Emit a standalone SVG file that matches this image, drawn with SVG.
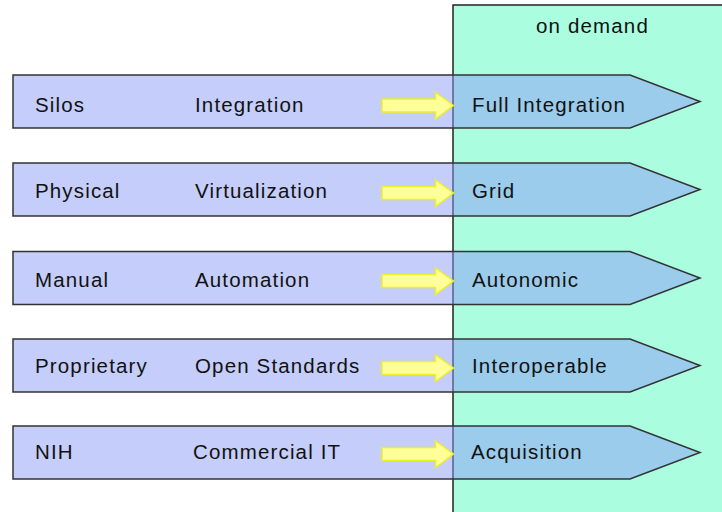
<svg xmlns="http://www.w3.org/2000/svg" width="722" height="512" viewBox="0 0 722 512">
<style>
.t{font-family:"Liberation Sans",Arial,sans-serif;font-size:20.5px;fill:#111;letter-spacing:1.15px}
.band{fill:#8c9cf5;fill-opacity:0.5;stroke:#333;stroke-width:1.5}
.ya{fill:#ffff99;stroke:#f0f020;stroke-width:1.5}
.zone{fill:#abfde0;stroke:#222;stroke-width:1.5}
</style>
<rect width="722" height="512" fill="#fff"/>
<g id="on-demand">
<rect class="zone" x="453" y="5" width="290" height="530"/>
<text class="t" x="536" y="32.5">on demand</text>
</g>
<g id="row1">
<polygon class="band" points="13,75 630,75 700,101.5 630,128 13,128"/>
<text class="t" x="35" y="111.5">Silos</text>
<text class="t" x="195" y="111.5">Integration</text>
<text class="t" x="472" y="111.5">Full Integration</text>
</g>
<g id="row2">
<polygon class="band" points="13,163 630,163 700,189.5 630,216 13,216"/>
<text class="t" x="35" y="198">Physical</text>
<text class="t" x="195" y="198">Virtualization</text>
<text class="t" x="472" y="198">Grid</text>
</g>
<g id="row3">
<polygon class="band" points="13,251.5 630,251.5 700,278 630,304.5 13,304.5"/>
<text class="t" x="35" y="286.5">Manual</text>
<text class="t" x="195" y="286.5">Automation</text>
<text class="t" x="472" y="286.5">Autonomic</text>
</g>
<g id="row4">
<polygon class="band" points="13,339 630,339 700,365.5 630,392 13,392"/>
<text class="t" x="35" y="373">Proprietary</text>
<text class="t" x="195" y="373">Open Standards</text>
<text class="t" x="472" y="373">Interoperable</text>
</g>
<g id="row5">
<polygon class="band" points="13,426 630,426 700,452.5 630,479 13,479"/>
<text class="t" x="35" y="459">NIH</text>
<text class="t" x="193" y="459">Commercial IT</text>
<text class="t" x="471" y="459">Acquisition</text>
</g>
<g id="connectors">
<polygon class="ya" points="382,99 435.5,99 435.5,92.5 453.5,105.5 435.5,119 435.5,112 382,112"/>
<polygon class="ya" points="382,186.5 435.5,186.5 435.5,180 453.5,193 435.5,206.5 435.5,199.5 382,199.5"/>
<polygon class="ya" points="382,274.5 435.5,274.5 435.5,268 453.5,281 435.5,294.5 435.5,287.5 382,287.5"/>
<polygon class="ya" points="382,361.5 435.5,361.5 435.5,355 453.5,368 435.5,381.5 435.5,374.5 382,374.5"/>
<polygon class="ya" points="382,447.5 435.5,447.5 435.5,441 453.5,454 435.5,467.5 435.5,460.5 382,460.5"/>
</g>
</svg>
